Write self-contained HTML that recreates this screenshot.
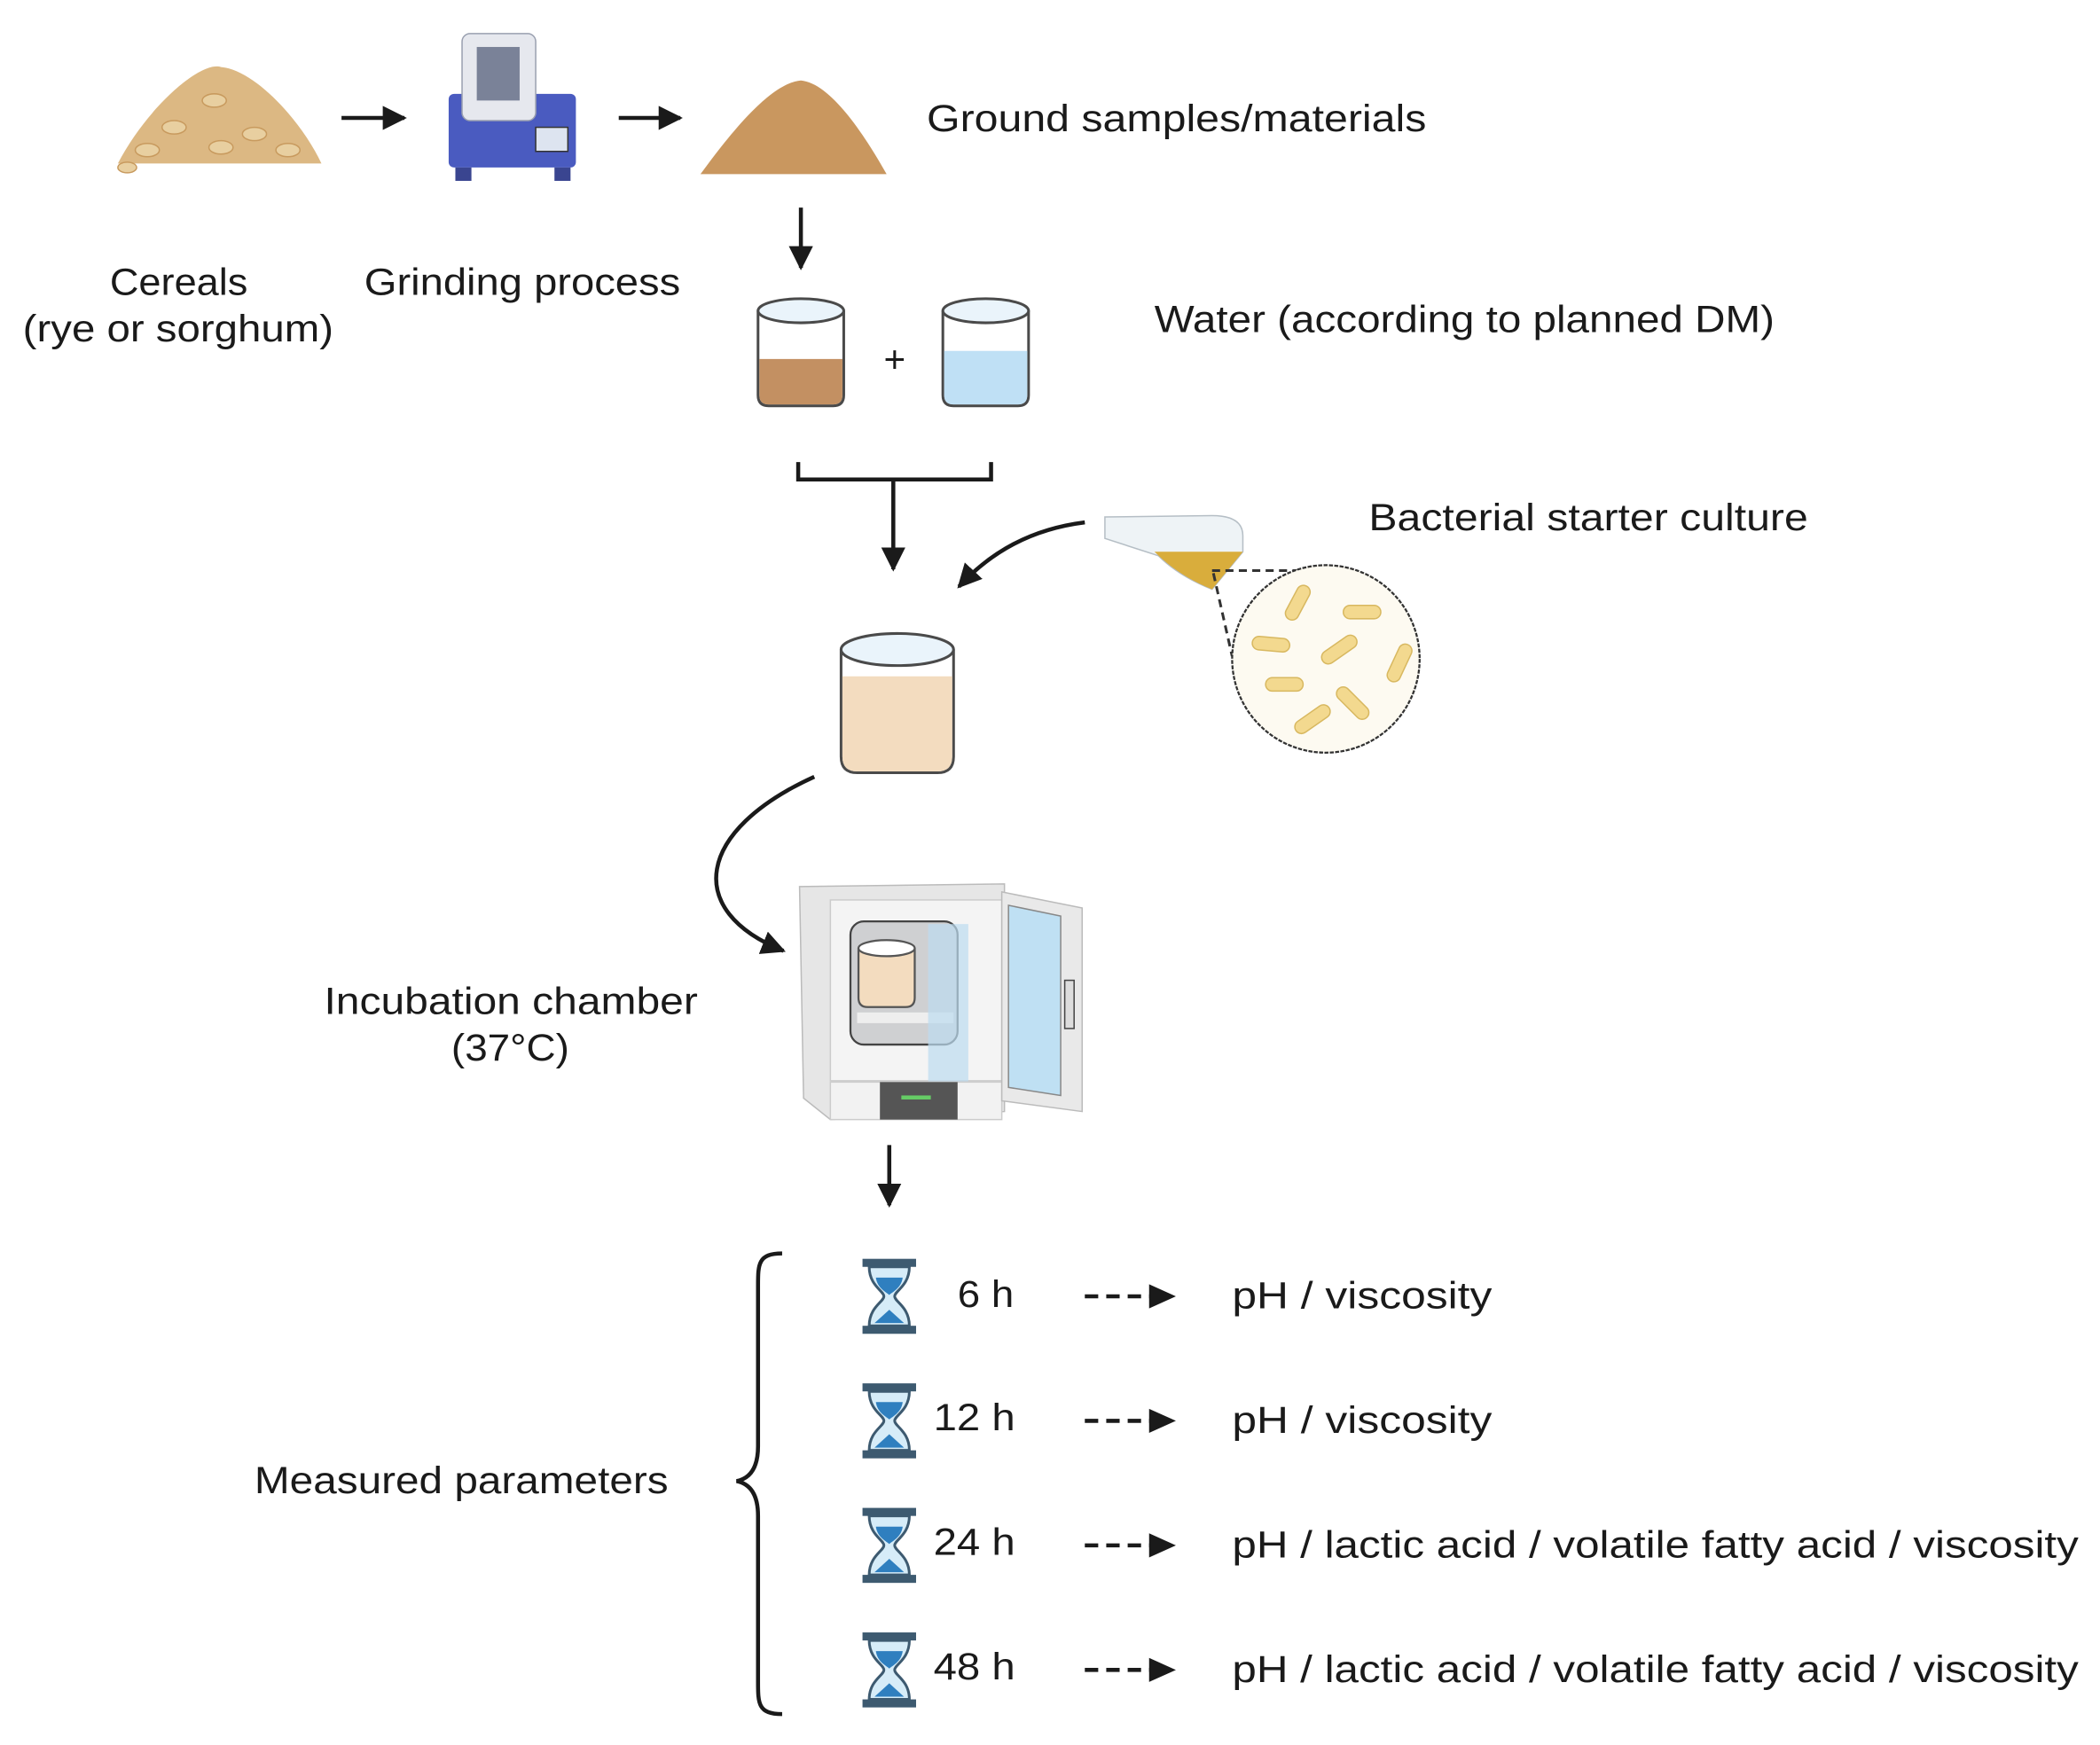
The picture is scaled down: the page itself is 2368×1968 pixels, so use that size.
<!DOCTYPE html>
<html><head><meta charset="utf-8"><style>
html,body{margin:0;padding:0;background:#fff;}
svg{display:block;}
text{font-family:"Liberation Sans",sans-serif;fill:#1a1a1a;font-size:28px;}
</style></head><body>
<svg width="2368" height="1968" viewBox="0 0 1568 1303" xmlns="http://www.w3.org/2000/svg">
<defs>
<marker id="ah" viewBox="0 0 10 10" refX="9" refY="5" markerWidth="6" markerHeight="6" orient="auto"><path d="M0,0L10,5L0,10z" fill="#1a1a1a"/></marker>
<g id="hg">
<rect x="0" y="0" width="40" height="6" fill="#3d5a70"/>
<rect x="0" y="50" width="40" height="6" fill="#3d5a70"/>
<path d="M5,6 C5,20 16,24 16,28 C16,32 5,36 5,50 L35,50 C35,36 24,32 24,28 C24,24 35,20 35,6Z" fill="#d6ecf8" stroke="#3d5a70" stroke-width="2"/>
<path d="M10,14 L30,14 C29,22 22,25 20,27 C18,25 11,22 10,14Z" fill="#2f7fbf"/>
<path d="M20,38 L31,48 L9,48Z" fill="#2f7fbf"/>
</g>
</defs>

<!-- cereal pile -->
<path d="M88,122 C110,80 150,45 165,50 C190,52 225,90 240,122 Z" fill="#dcb883"/>
<g fill="#e8cfa0" stroke="#c89a5e" stroke-width="1">
<ellipse cx="130" cy="95" rx="9" ry="5"/><ellipse cx="160" cy="75" rx="9" ry="5"/><ellipse cx="190" cy="100" rx="9" ry="5"/>
<ellipse cx="110" cy="112" rx="9" ry="5"/><ellipse cx="215" cy="112" rx="9" ry="5"/><ellipse cx="165" cy="110" rx="9" ry="5"/>
<ellipse cx="95" cy="125" rx="7" ry="4"/>
</g>
<line x1="255" y1="88" x2="302" y2="88" stroke="#1a1a1a" stroke-width="3" marker-end="url(#ah)"/>
<!-- grinder -->
<rect x="335" y="70" width="95" height="55" rx="4" fill="#4a5bc0"/>
<rect x="345" y="25" width="55" height="65" rx="6" fill="#e6e8ee" stroke="#9aa0b0"/>
<rect x="356" y="35" width="32" height="40" fill="#7a8298"/>
<rect x="400" y="95" width="24" height="18" fill="#dde4f0" stroke="#333"/>
<rect x="340" y="125" width="12" height="10" fill="#3a4590"/><rect x="414" y="125" width="12" height="10" fill="#3a4590"/>
<line x1="462" y1="88" x2="508" y2="88" stroke="#1a1a1a" stroke-width="3" marker-end="url(#ah)"/>
<!-- ground pile -->
<path d="M523,130 C545,100 575,62 598,60 C620,62 645,100 662,130 Z" fill="#c9975f"/>
<text x="692" y="98" textLength="373" lengthAdjust="spacingAndGlyphs">Ground samples/materials</text>
<text x="82" y="220" textLength="103" lengthAdjust="spacingAndGlyphs">Cereals</text>
<text x="17" y="255" textLength="232" lengthAdjust="spacingAndGlyphs">(rye or sorghum)</text>
<text x="272" y="220" textLength="236" lengthAdjust="spacingAndGlyphs">Grinding process</text>

<line x1="598" y1="155" x2="598" y2="200" stroke="#1a1a1a" stroke-width="3" marker-end="url(#ah)"/>
<!-- beakers -->
<path d="M566,232 L566,295 Q566,303 574,303 L622,303 Q630,303 630,295 L630,232" fill="#fff" stroke="#4a4a4a" stroke-width="2"/>
<path d="M567,268 L629,268 L629,295 Q629,302 622,302 L574,302 Q567,302 567,295Z" fill="#c39062"/>
<ellipse cx="598" cy="232" rx="32" ry="9" fill="#eaf4fb" stroke="#4a4a4a" stroke-width="2"/>
<text x="668" y="278" text-anchor="middle">+</text>
<path d="M704,232 L704,295 Q704,303 712,303 L760,303 Q768,303 768,295 L768,232" fill="#fff" stroke="#4a4a4a" stroke-width="2"/>
<path d="M705,262 L767,262 L767,295 Q767,302 760,302 L712,302 Q705,302 705,295Z" fill="#bfe0f5"/>
<ellipse cx="736" cy="232" rx="32" ry="9" fill="#eaf4fb" stroke="#4a4a4a" stroke-width="2"/>
<text x="862" y="248" textLength="463" lengthAdjust="spacingAndGlyphs">Water (according to planned DM)</text>

<path d="M596,345 L596,358 L740,358 L740,345" fill="none" stroke="#1a1a1a" stroke-width="3"/>
<line x1="667" y1="358" x2="667" y2="425" stroke="#1a1a1a" stroke-width="3" marker-end="url(#ah)"/>
<path d="M810,390 C770,395 740,412 716,438" fill="none" stroke="#1a1a1a" stroke-width="3" marker-end="url(#ah)"/>

<!-- flask -->
<path d="M825,386 L905,385 Q928,385 928,400 L928,412 L905,440 Q880,430 865,415 L825,402 Z" fill="#eef3f6" stroke="#b5bec5"/>
<path d="M862,412 L928,412 L905,440 Q880,430 862,412Z" fill="#d9ad3c"/>
<path d="M905,426 L980,426" stroke="#333" stroke-width="2" stroke-dasharray="6,4"/>
<path d="M906,428 L920,490" stroke="#333" stroke-width="2" stroke-dasharray="6,4"/>
<text x="1022" y="396" textLength="328" lengthAdjust="spacingAndGlyphs">Bacterial starter culture</text>
<circle cx="990" cy="492" r="70" fill="#fdfaf1" stroke="#333" stroke-width="1.5" stroke-dasharray="3,1"/>
<g fill="#f3d98f" stroke="#d8b860" stroke-width="1">
<rect x="955" y="445" width="28" height="10" rx="5" transform="rotate(-62 969 450)"/>
<rect x="1003" y="452" width="28" height="10" rx="5"/>
<rect x="935" y="476" width="28" height="10" rx="5" transform="rotate(5 949 481)"/>
<rect x="985" y="480" width="30" height="10" rx="5" transform="rotate(-35 1000 485)"/>
<rect x="1030" y="490" width="30" height="10" rx="5" transform="rotate(-65 1045 495)"/>
<rect x="945" y="506" width="28" height="10" rx="5"/>
<rect x="995" y="520" width="30" height="10" rx="5" transform="rotate(45 1010 525)"/>
<rect x="965" y="532" width="30" height="10" rx="5" transform="rotate(-35 980 537)"/>
</g>

<!-- big beaker -->
<path d="M628,485 L628,565 Q628,577 640,577 L700,577 Q712,577 712,565 L712,485" fill="#fff" stroke="#4a4a4a" stroke-width="2"/>
<path d="M629,505 L711,505 L711,565 Q711,576 700,576 L640,576 Q629,576 629,565Z" fill="#f3dcbf"/>
<ellipse cx="670" cy="485" rx="42" ry="12" fill="#eaf4fb" stroke="#4a4a4a" stroke-width="2"/>

<path d="M608,580 C520,620 510,680 585,710" fill="none" stroke="#1a1a1a" stroke-width="3" marker-end="url(#ah)"/>
<!-- incubator -->
<path d="M597,662 L750,660 L750,830 L620,836 L600,820Z" fill="#e6e6e6" stroke="#bbb"/>
<rect x="620" y="672" width="128" height="135" fill="#f4f4f4" stroke="#ccc"/>
<rect x="635" y="688" width="80" height="92" rx="10" fill="#cfd0d2" stroke="#444" stroke-width="1.5"/>
<rect x="640" y="756" width="72" height="8" fill="#eee"/>
<path d="M641,708 L641,745 Q641,752 648,752 L676,752 Q683,752 683,745 L683,708" fill="#f3dcbf" stroke="#555" stroke-width="1.5"/>
<ellipse cx="662" cy="708" rx="21" ry="6" fill="#fff" stroke="#555" stroke-width="1.5"/>
<rect x="693" y="690" width="30" height="118" fill="#bcdcf0" opacity="0.7"/>
<rect x="620" y="808" width="128" height="28" fill="#f2f2f2" stroke="#ccc"/>
<rect x="657" y="808" width="58" height="28" fill="#555"/>
<rect x="673" y="818" width="22" height="3" fill="#6c6"/>
<path d="M748,666 L808,678 L808,830 L748,822Z" fill="#e9e9e9" stroke="#bbb"/>
<path d="M753,676 L792,684 L792,818 L753,812Z" fill="#bfe0f3" stroke="#888"/>
<rect x="795" y="732" width="7" height="36" fill="#ddd" stroke="#444"/>
<text x="242" y="757" textLength="279" lengthAdjust="spacingAndGlyphs">Incubation chamber</text>
<text x="337" y="792" textLength="88" lengthAdjust="spacingAndGlyphs">(37°C)</text>

<line x1="664" y1="855" x2="664" y2="900" stroke="#1a1a1a" stroke-width="3" marker-end="url(#ah)"/>
<path d="M584,936 C566,936 566,944 566,960 L566,1080 C566,1096 560,1104 550,1106 C560,1108 566,1116 566,1132 L566,1256 C566,1272 566,1280 584,1280" fill="none" stroke="#1a1a1a" stroke-width="3"/>
<text x="190" y="1115" textLength="309" lengthAdjust="spacingAndGlyphs">Measured parameters</text>

<use href="#hg" x="644" y="940"/>
<use href="#hg" x="644" y="1033"/>
<use href="#hg" x="644" y="1126"/>
<use href="#hg" x="644" y="1219"/>
<text x="715" y="976" textLength="42" lengthAdjust="spacingAndGlyphs">6 h</text>
<text x="697" y="1068" textLength="61" lengthAdjust="spacingAndGlyphs">12 h</text>
<text x="697" y="1161" textLength="61" lengthAdjust="spacingAndGlyphs">24 h</text>
<text x="697" y="1254" textLength="61" lengthAdjust="spacingAndGlyphs">48 h</text>
<g stroke="#1a1a1a" stroke-width="3" stroke-dasharray="10,6">
<line x1="810" y1="968" x2="860" y2="968"/><line x1="810" y1="1061" x2="860" y2="1061"/>
<line x1="810" y1="1154" x2="860" y2="1154"/><line x1="810" y1="1247" x2="860" y2="1247"/>
</g>
<g fill="#1a1a1a">
<path d="M858,959L878,968L858,977Z"/><path d="M858,1052L878,1061L858,1070Z"/>
<path d="M858,1145L878,1154L858,1163Z"/><path d="M858,1238L878,1247L858,1256Z"/>
</g>
<text x="920" y="977" textLength="194" lengthAdjust="spacingAndGlyphs">pH / viscosity</text>
<text x="920" y="1070" textLength="194" lengthAdjust="spacingAndGlyphs">pH / viscosity</text>
<text x="920" y="1163" textLength="632" lengthAdjust="spacingAndGlyphs">pH / lactic acid / volatile fatty acid / viscosity</text>
<text x="920" y="1256" textLength="632" lengthAdjust="spacingAndGlyphs">pH / lactic acid / volatile fatty acid / viscosity</text>
</svg>
</body></html>
